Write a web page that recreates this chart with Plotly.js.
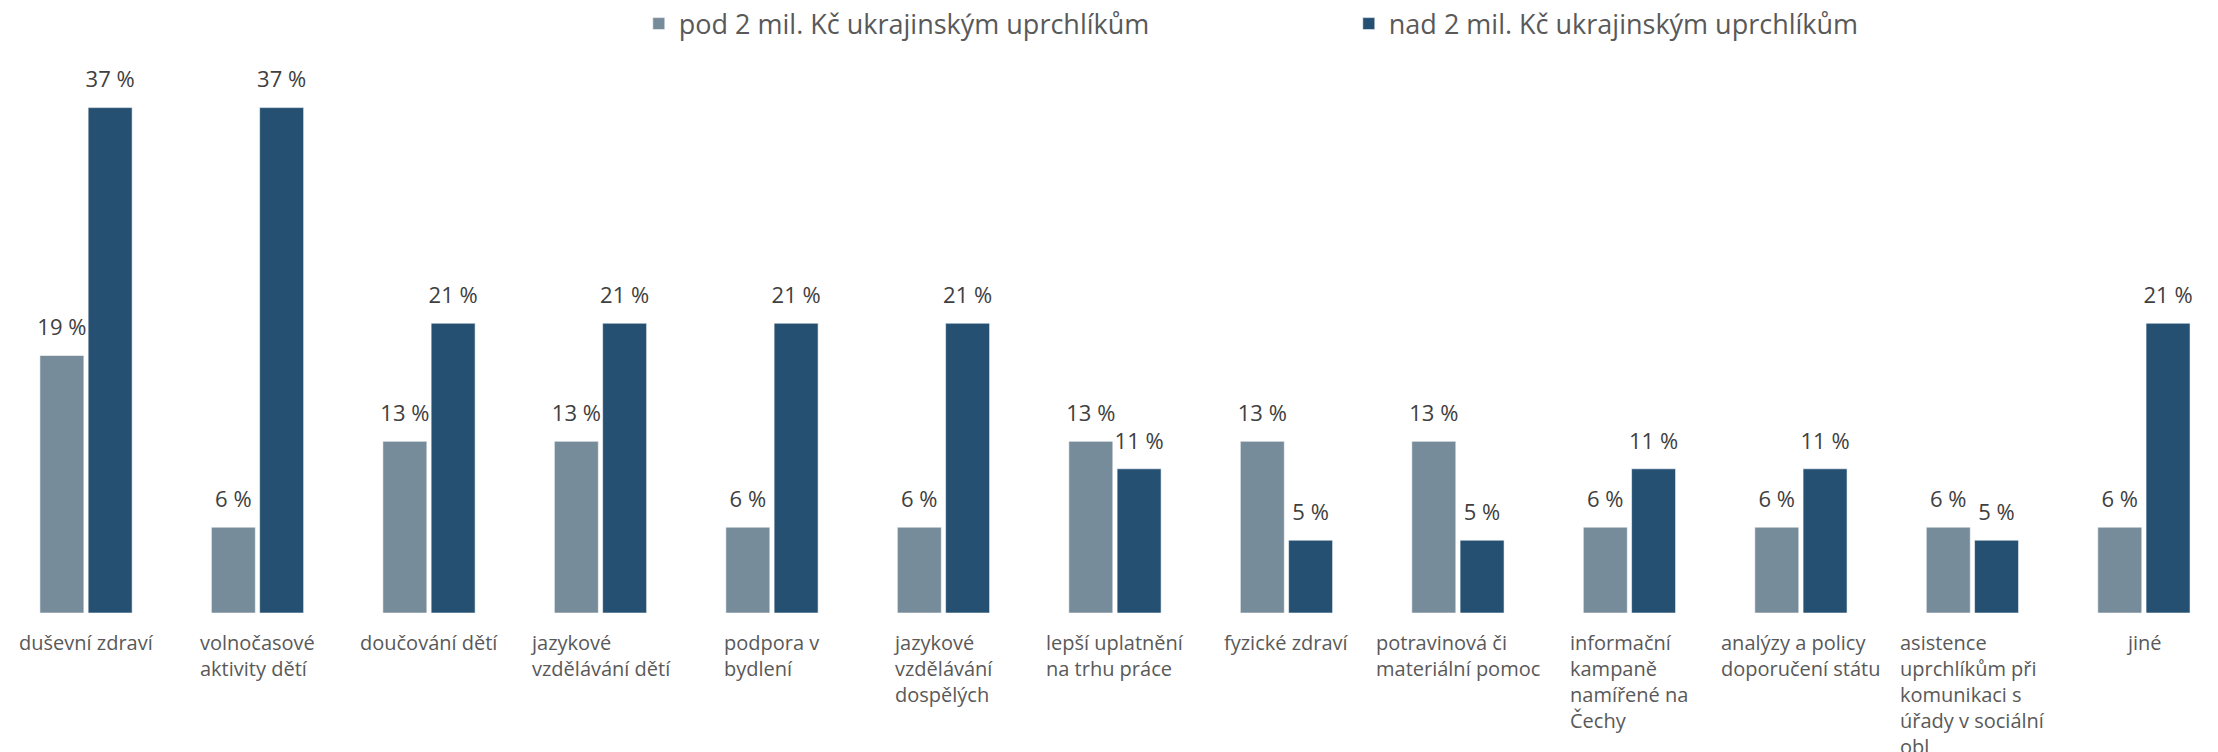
<!DOCTYPE html>
<html>
<head>
<meta charset="utf-8">
<script src="https://cdn.plot.ly/plotly-3.0.1.min.js"></script>
<style>
  html, body { margin: 0; padding: 0; background: #ffffff; }
  #chart { width: 2218px; height: 752px; }
</style>
</head>
<body>
<div id="chart"></div>
<script>
// ---- data ----
const categories = [
  "duševní zdraví",
  "volnočasové aktivity dětí",
  "doučování dětí",
  "jazykové vzdělávání dětí",
  "podpora v bydlení",
  "jazykové vzdělávání dospělých",
  "lepší uplatnění na trhu práce",
  "fyzické zdraví",
  "potravinová či materiální pomoc",
  "informační kampaně namířené na Čechy",
  "analýzy a policy doporučení státu",
  "asistence uprchlíkům při komunikaci s úřady v sociální obl",
  "jiné"
];
const tickLabels = [
  "duševní zdraví",
  "volnočasové<br>aktivity dětí",
  "doučování dětí",
  "jazykové<br>vzdělávání dětí",
  "podpora v<br>bydlení",
  "jazykové<br>vzdělávání<br>dospělých",
  "lepší uplatnění<br>na trhu práce",
  "fyzické zdraví",
  "potravinová či<br>materiální pomoc",
  "informační<br>kampaně<br>namířené na<br>Čechy",
  "analýzy a policy<br>doporučení státu",
  "asistence<br>uprchlíkům při<br>komunikaci s<br>úřady v sociální<br>obl",
  "jiné"
];
const seriesNames = ["pod 2 mil. Kč ukrajinským uprchlíkům", "nad 2 mil. Kč ukrajinským uprchlíkům"];
const podValues = [18.75, 6.25, 12.5, 12.5, 6.25, 6.25, 12.5, 12.5, 12.5, 6.25, 6.25, 6.25, 6.25];
const nadValues = [36.8, 36.8, 21.1, 21.1, 21.1, 21.1, 10.5, 5.3, 5.3, 10.5, 10.5, 5.3, 21.1];

// ---- styles ----
const colors = ["#768c9b", "#255072"];
const fontFamily = "'Open Sans', 'Noto Sans', sans-serif";

function pct(vals) { return vals.map(v => Math.round(v) + " %"); }

function barTrace(name, vals, color) {
  return {
    type: "bar",
    name: name,
    x: categories,
    y: vals,
    marker: { color: color, line: { color: "rgba(255,255,255,0.55)", width: 1 } },
    hoverinfo: "x+y"
  };
}

// value labels: grouped scatter text traces aligned with the bars
function labelTrace(vals) {
  return {
    type: "scatter",
    mode: "markers+text",
    x: categories,
    y: vals,
    text: pct(vals),
    textposition: "top center",
    cliponaxis: false,
    showlegend: false,
    hoverinfo: "skip",
    marker: { size: 22, opacity: 0, color: "#ffffff" },
    textfont: { family: fontFamily, size: 22, color: "#404040" }
  };
}

const data = [
  barTrace(seriesNames[0], podValues, colors[0]),
  barTrace(seriesNames[1], nadValues, colors[1]),
  labelTrace(podValues),
  labelTrace(nadValues)
];

const annotations = categories.map((c, i) => ({
  x: c,
  xref: "x",
  y: 0,
  yref: "y",
  yanchor: "top",
  xanchor: "center",
  yshift: -14,
  align: "left",
  showarrow: false,
  text: tickLabels[i],
  font: { family: fontFamily, size: 20, color: "#595959" }
}));

const layout = {
  width: 2218,
  height: 752,
  margin: { l: 0, r: 0, t: 40, b: 139, pad: 0 },
  paper_bgcolor: "#ffffff",
  plot_bgcolor: "#ffffff",
  font: { family: fontFamily, color: "#595959" },
  barmode: "group",
  bargap: 0.437,
  bargroupgap: 0.089,
  scattermode: "group",
  scattergap: 0.437,
  showlegend: true,
  legend: {
    orientation: "h",
    xref: "container",
    yref: "container",
    x: 0.288,
    xanchor: "left",
    y: 0.968,
    yanchor: "middle",
    entrywidth: 665,
    entrywidthmode: "pixels",
    font: { family: fontFamily, size: 27, color: "#595959" },
    bgcolor: "rgba(0,0,0,0)"
  },
  xaxis: {
    type: "category",
    range: [-0.5015, 12.432],
    showticklabels: false,
    showgrid: false,
    zeroline: false,
    showline: false,
    ticks: ""
  },
  yaxis: {
    range: [0, 41.1],
    showticklabels: false,
    showgrid: false,
    zeroline: false,
    showline: false,
    ticks: ""
  },
  annotations: annotations
};

Plotly.newPlot("chart", data, layout, { displayModeBar: false, staticPlot: true });
</script>
</body>
</html>
